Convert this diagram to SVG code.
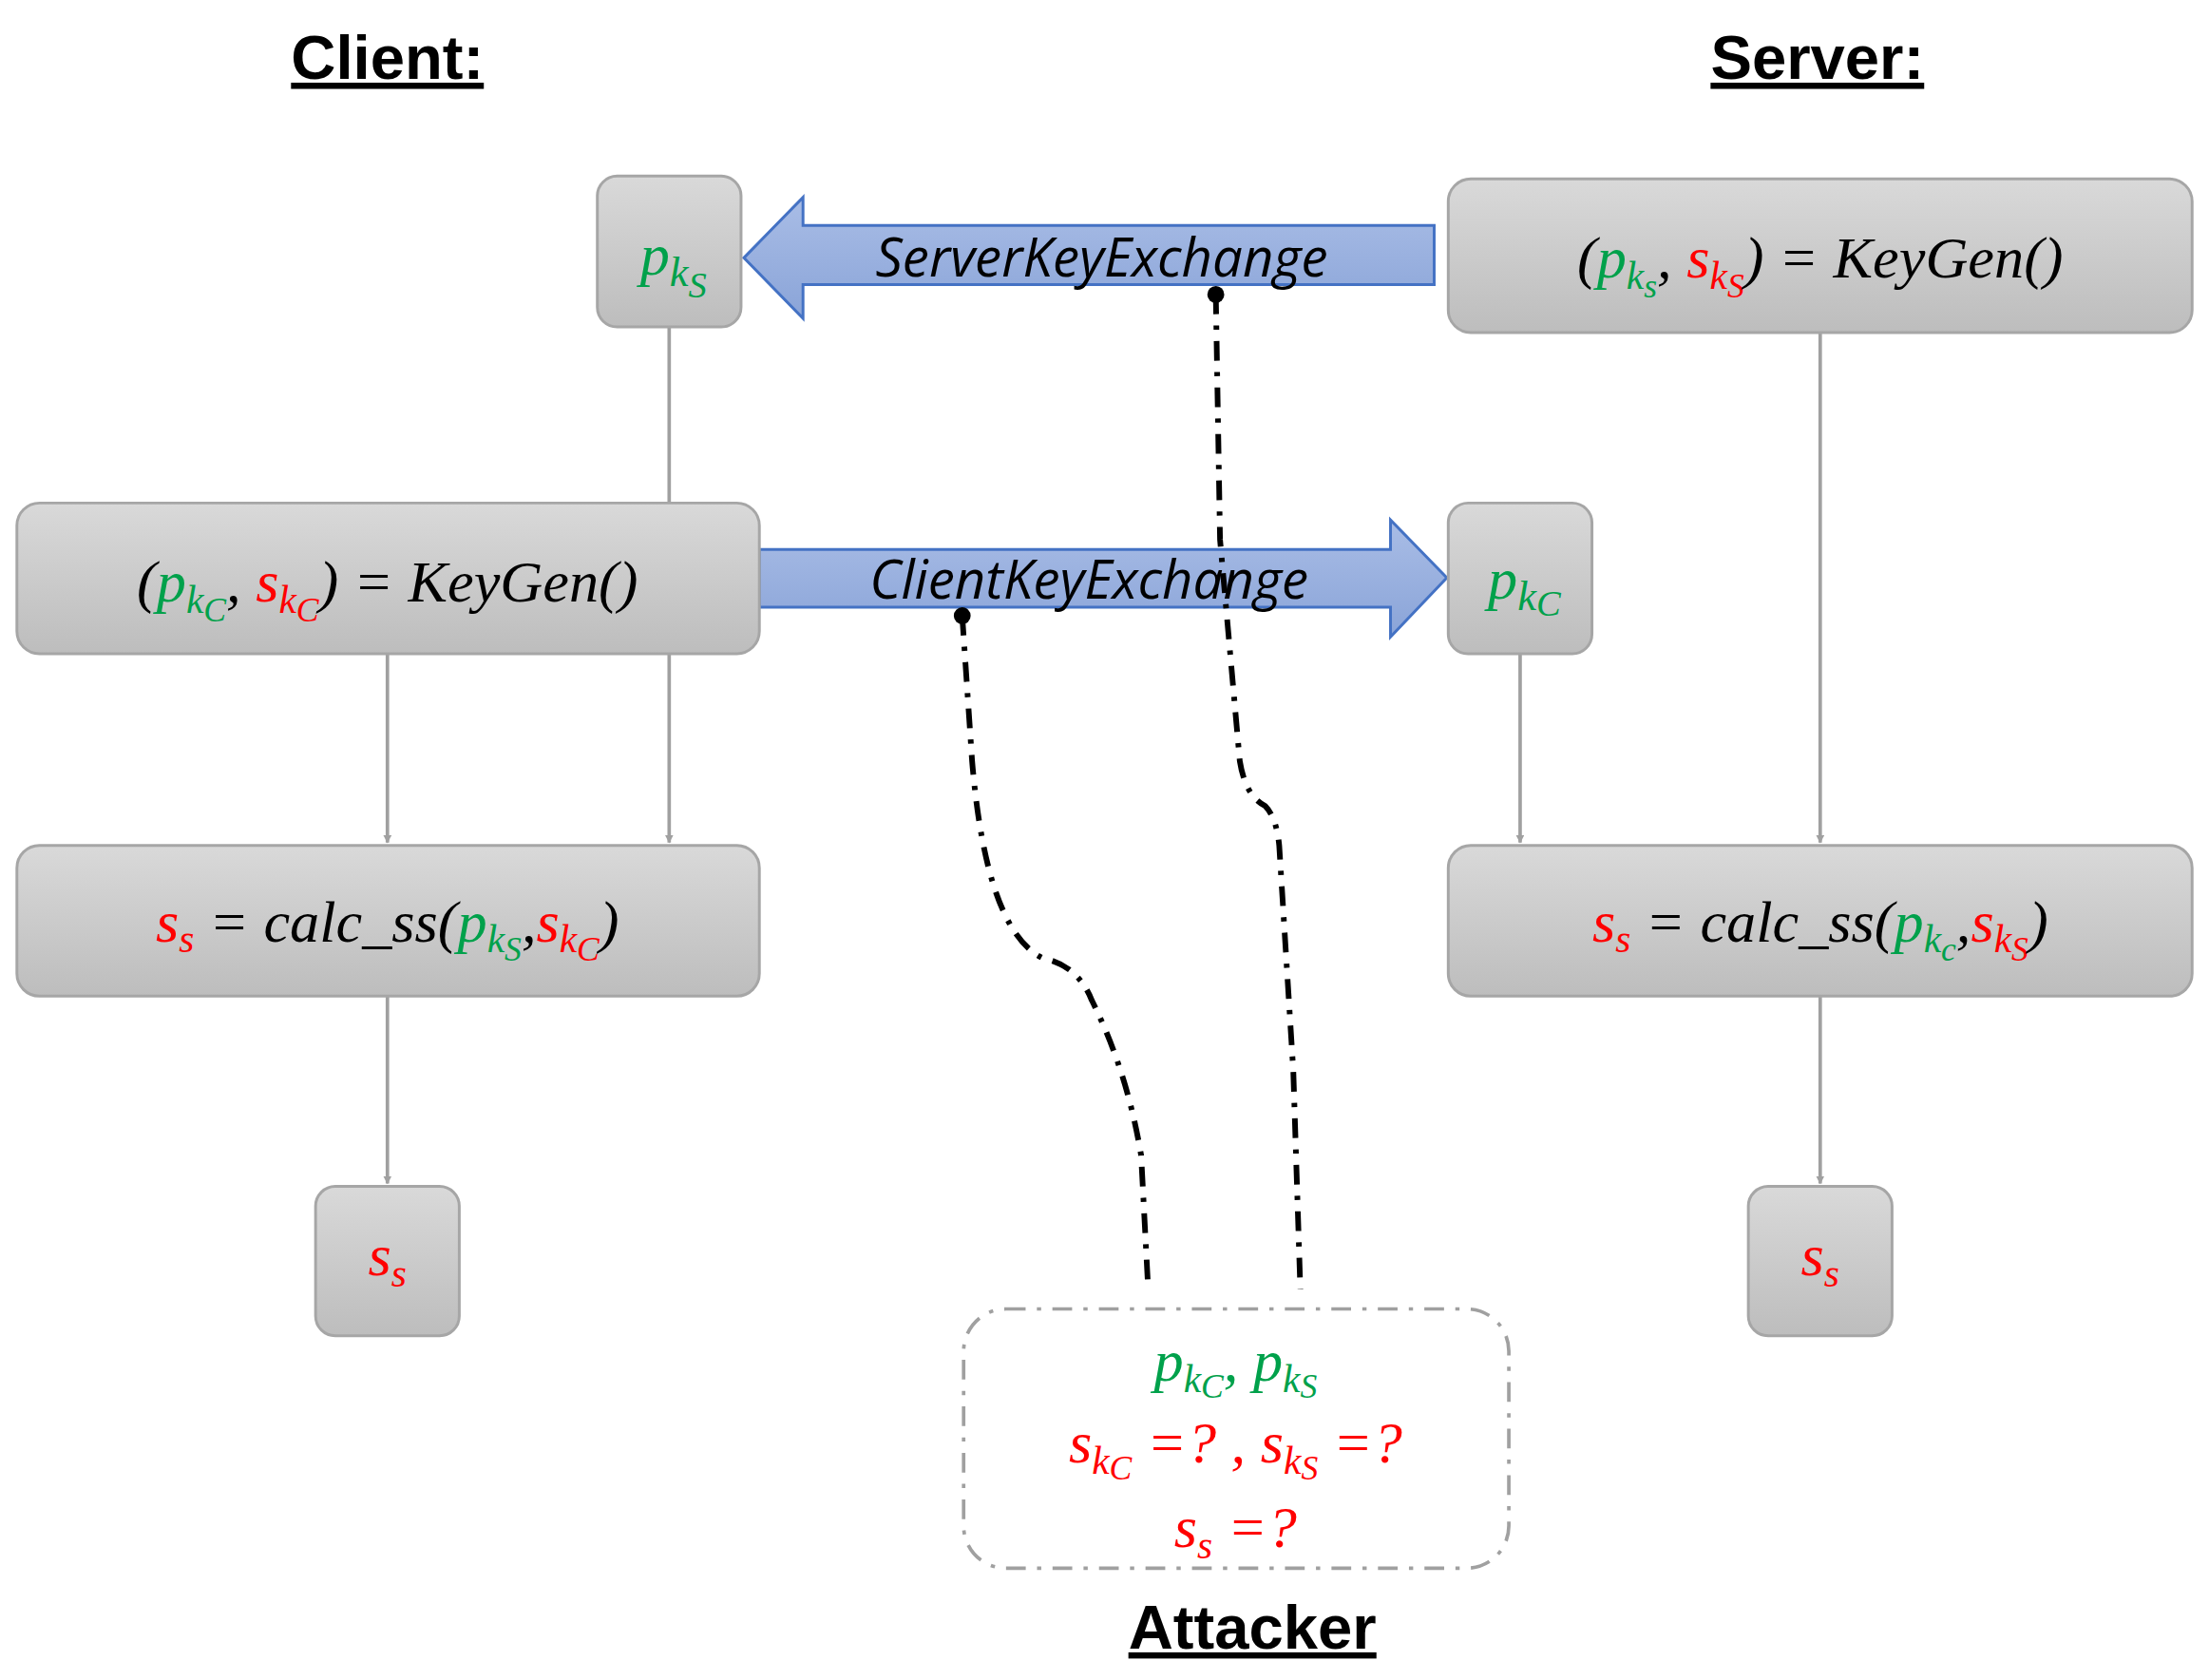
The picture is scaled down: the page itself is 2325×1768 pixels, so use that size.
<svg xmlns="http://www.w3.org/2000/svg" width="2325" height="1768" viewBox="0 0 2325 1768">
<defs>
<linearGradient id="gb" x1="0" y1="0" x2="0" y2="1"><stop offset="0" stop-color="#d9d9d9"/><stop offset="1" stop-color="#bdbdbd"/></linearGradient>
<linearGradient id="ga" x1="0" y1="0" x2="0" y2="1"><stop offset="0" stop-color="#a9bde6"/><stop offset="1" stop-color="#8aa4d8"/></linearGradient>
<marker id="ah" viewBox="0 0 10 10" refX="9" refY="5" markerWidth="6" markerHeight="6" orient="auto" markerUnits="userSpaceOnUse"><path d="M0,0 L10,5 L0,10 z" fill="#a0a0a0"/></marker>
</defs>
<style>
.box{fill:url(#gb);stroke:#a6a6a6;stroke-width:2}
.ttl{font-family:"Liberation Sans",Arial,sans-serif;font-weight:bold;font-size:44px;text-decoration:underline;text-anchor:middle}
.m{font-family:"Liberation Serif","DejaVu Serif",serif;font-style:italic;font-size:42px;text-anchor:middle}
.lbl{font-family:"Open Sans","Liberation Sans",sans-serif;font-style:italic;font-size:38px;text-anchor:middle}
.g{fill:#00a14b}.r{fill:#ff0000}.k{fill:#000}
.c{stroke:#a0a0a0;stroke-width:2.5;fill:none}
.dd{stroke:#000;stroke-width:4;fill:none;stroke-dasharray:14 8 3 8}
</style>
<rect width="2325" height="1768" fill="#fff"/>
<g transform="scale(1.4828)">
<text class="ttl" x="275" y="56">Client:</text>
<text class="ttl" x="1290" y="56">Server:</text>
<text class="ttl" x="889" y="1170">Attacker</text>

<g id="connectors">
<line class="c" x1="475" y1="232" x2="475" y2="357"/>
<line class="c" x1="275" y1="464" x2="275" y2="598" marker-end="url(#ah)"/>
<line class="c" x1="475" y1="464" x2="475" y2="598" marker-end="url(#ah)"/>
<line class="c" x1="275" y1="707" x2="275" y2="840" marker-end="url(#ah)"/>
<line class="c" x1="1292" y1="236" x2="1292" y2="598" marker-end="url(#ah)"/>
<line class="c" x1="1079" y1="464" x2="1079" y2="598" marker-end="url(#ah)"/>
<line class="c" x1="1292" y1="707" x2="1292" y2="840" marker-end="url(#ah)"/>
<g id="ske"><path d="M1018,160 L570,160 L570,140 L528,183 L570,226 L570,202 L1018,202 Z" fill="url(#ga)" stroke="#4472c4" stroke-width="2"/>
<text class="lbl" x="782" y="196">ServerKeyExchange</text></g>
<g id="cke"><path d="M539,390 L987,390 L987,369 L1027,410 L987,452 L987,431 L539,431 Z" fill="url(#ga)" stroke="#4472c4" stroke-width="2"/>
<text class="lbl" x="773" y="425">ClientKeyExchange</text></g>
<path class="dd" d="M863,209 L866,383 L880,540 Q884,565 898,572 Q906,580 908,600 L918,760 L923,915"/>
<path class="dd" d="M683,437 L690,540 Q700,660 740,680 Q765,685 775,710 Q800,760 810,820 L815,915"/>
<circle cx="863" cy="209" r="6"/>
<circle cx="683" cy="437" r="6"/>
</g>

<g id="n_pks"><rect class="box" x="424" y="125" width="102" height="107" rx="14"/>
<text class="m g" x="478" y="195">p<tspan font-size="30" dy="8">k</tspan><tspan font-size="26" dy="8">S</tspan></text></g>
<g id="n_skg"><rect class="box" x="1028" y="127" width="528" height="109" rx="16"/>
<text class="m" x="1292" y="197"><tspan class="k">(</tspan><tspan class="g">p<tspan font-size="28" dy="8">k</tspan><tspan font-size="24" dy="6">s</tspan></tspan><tspan class="k" dy="-14">, </tspan><tspan class="r">s<tspan font-size="28" dy="8">k</tspan><tspan font-size="24" dy="6">S</tspan></tspan><tspan class="k" dy="-14">) = KeyGen()</tspan></text></g>
<g id="n_ckg"><rect class="box" x="12" y="357" width="527" height="107" rx="16"/>
<text class="m" x="275" y="427"><tspan class="k">(</tspan><tspan class="g">p<tspan font-size="28" dy="8">k</tspan><tspan font-size="24" dy="6">C</tspan></tspan><tspan class="k" dy="-14">, </tspan><tspan class="r">s<tspan font-size="28" dy="8">k</tspan><tspan font-size="24" dy="6">C</tspan></tspan><tspan class="k" dy="-14">) = KeyGen()</tspan></text></g>
<g id="n_pkc"><rect class="box" x="1028" y="357" width="102" height="107" rx="14"/>
<text class="m g" x="1082" y="425">p<tspan font-size="30" dy="8">k</tspan><tspan font-size="26" dy="4">C</tspan></text></g>
<g id="n_ccalc"><rect class="box" x="12" y="600" width="527" height="107" rx="16"/>
<text class="m" x="275" y="668"><tspan class="r">s<tspan font-size="28" dy="8">s</tspan></tspan><tspan class="k" dy="-8"> = calc_ss(</tspan><tspan class="g">p<tspan font-size="28" dy="8">k</tspan><tspan font-size="24" dy="6">S</tspan></tspan><tspan class="k" dy="-14">,</tspan><tspan class="r">s<tspan font-size="28" dy="8">k</tspan><tspan font-size="24" dy="6">C</tspan></tspan><tspan class="k" dy="-14">)</tspan></text></g>
<g id="n_scalc"><rect class="box" x="1028" y="600" width="528" height="107" rx="16"/>
<text class="m" x="1292" y="668"><tspan class="r">s<tspan font-size="28" dy="8">s</tspan></tspan><tspan class="k" dy="-8"> = calc_ss(</tspan><tspan class="g">p<tspan font-size="28" dy="8">k</tspan><tspan font-size="24" dy="6">c</tspan></tspan><tspan class="k" dy="-14">,</tspan><tspan class="r">s<tspan font-size="28" dy="8">k</tspan><tspan font-size="24" dy="6">S</tspan></tspan><tspan class="k" dy="-14">)</tspan></text></g>
<g id="n_css"><rect class="box" x="224" y="842" width="102" height="106" rx="14"/>
<text class="m r" x="275" y="905">s<tspan font-size="28" dy="8">s</tspan></text></g>
<g id="n_sss"><rect class="box" x="1241" y="842" width="102" height="106" rx="14"/>
<text class="m r" x="1292" y="905">s<tspan font-size="28" dy="8">s</tspan></text></g>
<g id="n_att"><rect x="684" y="929" width="387" height="184" rx="30" fill="#fff" stroke="#a0a0a0" stroke-width="2.5" stroke-dasharray="14 8 3 8"/>
<text class="m g" x="877" y="980">p<tspan font-size="28" dy="8">k</tspan><tspan font-size="24" dy="4">C</tspan><tspan dy="-12">, p</tspan><tspan font-size="28" dy="8">k</tspan><tspan font-size="24" dy="4">S</tspan></text>
<text class="m r" x="877" y="1038">s<tspan font-size="28" dy="8">k</tspan><tspan font-size="24" dy="4">C</tspan><tspan dy="-12"> =? , s</tspan><tspan font-size="28" dy="8">k</tspan><tspan font-size="24" dy="4">S</tspan><tspan dy="-12"> =?</tspan></text>
<text class="m r" x="877" y="1098">s<tspan font-size="28" dy="8">s</tspan><tspan dy="-8"> =?</tspan></text></g>
</g>
</svg>
